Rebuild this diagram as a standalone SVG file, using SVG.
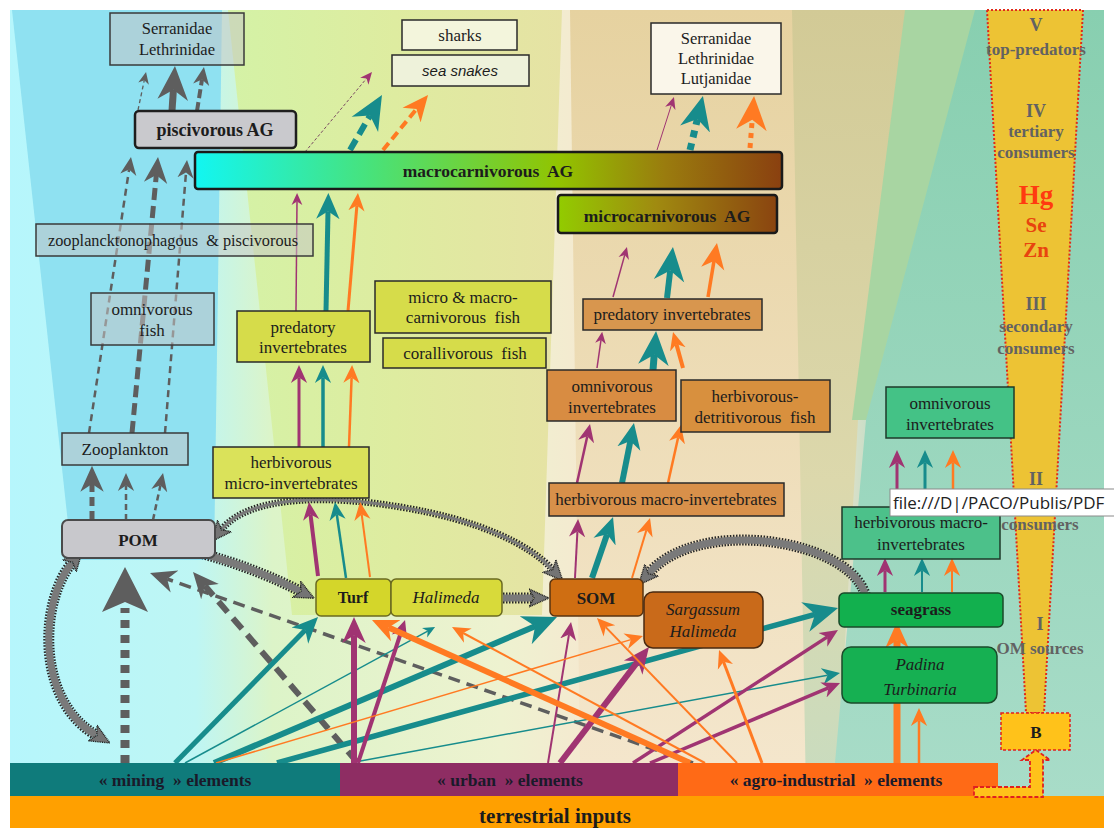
<svg xmlns="http://www.w3.org/2000/svg" width="1114" height="828" viewBox="0 0 1114 828">
<defs>
<linearGradient id="bg" x1="10" y1="0" x2="1104" y2="0" gradientUnits="userSpaceOnUse">
<stop offset="0" stop-color="#b6f6fc"/><stop offset="0.17" stop-color="#bef6f4"/><stop offset="0.24" stop-color="#dcf4c8"/><stop offset="0.45" stop-color="#eef2d0"/><stop offset="0.52" stop-color="#f4ead0"/><stop offset="0.75" stop-color="#f2e2c8"/><stop offset="0.8" stop-color="#b4dcc8"/><stop offset="1" stop-color="#a4d8c4"/>
</linearGradient>
<linearGradient id="gYel" x1="0" y1="0" x2="1" y2="0"><stop offset="0" stop-color="#d4f2a6"/><stop offset="0.5" stop-color="#deeca0"/><stop offset="1" stop-color="#e6e2a4"/></linearGradient>
<linearGradient id="gTan" x1="0" y1="0" x2="0" y2="1"><stop offset="0" stop-color="#e6d2a0"/><stop offset="1" stop-color="#f4e6cc"/></linearGradient>
<linearGradient id="gKhaki" x1="0" y1="0" x2="0" y2="1"><stop offset="0" stop-color="#d2ca96"/><stop offset="0.6" stop-color="#dcd8ac"/><stop offset="1" stop-color="#c8dcc0"/></linearGradient>
<linearGradient id="gTeal" x1="0" y1="0" x2="0" y2="1"><stop offset="0" stop-color="#88cfb0"/><stop offset="1" stop-color="#a8dcc8"/></linearGradient>
<linearGradient id="gMacro" x1="0" y1="0" x2="1" y2="0"><stop offset="0" stop-color="#12f6f2"/><stop offset="0.3" stop-color="#48e27a"/><stop offset="0.62" stop-color="#92c400"/><stop offset="0.8" stop-color="#9a7c0e"/><stop offset="1" stop-color="#8a4010"/></linearGradient>
<linearGradient id="gMicro" x1="0" y1="0" x2="1" y2="0"><stop offset="0" stop-color="#92cc00"/><stop offset="0.45" stop-color="#a08a10"/><stop offset="1" stop-color="#8a4410"/></linearGradient>
<marker id="t-s" viewBox="0 0 10 10" refX="3" refY="5" markerWidth="12" markerHeight="12" markerUnits="userSpaceOnUse" orient="auto"><path d="M0,0.5L10,5L0,9.5L3,5z" fill="#178c8c"/></marker>
<marker id="t-m" viewBox="0 0 10 10" refX="3" refY="5" markerWidth="18" markerHeight="18" markerUnits="userSpaceOnUse" orient="auto"><path d="M0,0.5L10,5L0,9.5L3,5z" fill="#178c8c"/></marker>
<marker id="t-l" viewBox="0 0 10 10" refX="3" refY="5" markerWidth="26" markerHeight="26" markerUnits="userSpaceOnUse" orient="auto"><path d="M0,0.5L10,5L0,9.5L3,5z" fill="#178c8c"/></marker>
<marker id="t-xl" viewBox="0 0 10 10" refX="3" refY="5" markerWidth="34" markerHeight="34" markerUnits="userSpaceOnUse" orient="auto"><path d="M0,0.5L10,5L0,9.5L3,5z" fill="#178c8c"/></marker>
<marker id="m-s" viewBox="0 0 10 10" refX="3" refY="5" markerWidth="12" markerHeight="12" markerUnits="userSpaceOnUse" orient="auto"><path d="M0,0.5L10,5L0,9.5L3,5z" fill="#a03472"/></marker>
<marker id="m-m" viewBox="0 0 10 10" refX="3" refY="5" markerWidth="18" markerHeight="18" markerUnits="userSpaceOnUse" orient="auto"><path d="M0,0.5L10,5L0,9.5L3,5z" fill="#a03472"/></marker>
<marker id="m-l" viewBox="0 0 10 10" refX="3" refY="5" markerWidth="26" markerHeight="26" markerUnits="userSpaceOnUse" orient="auto"><path d="M0,0.5L10,5L0,9.5L3,5z" fill="#a03472"/></marker>
<marker id="o-m" viewBox="0 0 10 10" refX="3" refY="5" markerWidth="18" markerHeight="18" markerUnits="userSpaceOnUse" orient="auto"><path d="M0,0.5L10,5L0,9.5L3,5z" fill="#ff7a22"/></marker>
<marker id="o-l" viewBox="0 0 10 10" refX="3" refY="5" markerWidth="26" markerHeight="26" markerUnits="userSpaceOnUse" orient="auto"><path d="M0,0.5L10,5L0,9.5L3,5z" fill="#ff7a22"/></marker>
<marker id="o-xl" viewBox="0 0 10 10" refX="3" refY="5" markerWidth="34" markerHeight="34" markerUnits="userSpaceOnUse" orient="auto"><path d="M0,0.5L10,5L0,9.5L3,5z" fill="#ff7a22"/></marker>
<marker id="g-s" viewBox="0 0 10 10" refX="3" refY="5" markerWidth="12" markerHeight="12" markerUnits="userSpaceOnUse" orient="auto"><path d="M0,0.5L10,5L0,9.5L3,5z" fill="#5e5e5e"/></marker>
<marker id="g-m" viewBox="0 0 10 10" refX="3" refY="5" markerWidth="18" markerHeight="18" markerUnits="userSpaceOnUse" orient="auto"><path d="M0,0.5L10,5L0,9.5L3,5z" fill="#5e5e5e"/></marker>
<marker id="g-l" viewBox="0 0 10 10" refX="3" refY="5" markerWidth="26" markerHeight="26" markerUnits="userSpaceOnUse" orient="auto"><path d="M0,0.5L10,5L0,9.5L3,5z" fill="#5e5e5e"/></marker>
<marker id="g-xl" viewBox="0 0 10 10" refX="3" refY="5" markerWidth="34" markerHeight="34" markerUnits="userSpaceOnUse" orient="auto"><path d="M0,0.5L10,5L0,9.5L3,5z" fill="#5e5e5e"/></marker>
<marker id="h" viewBox="0 0 10 10" refX="2" refY="5" markerWidth="20" markerHeight="20" markerUnits="userSpaceOnUse" orient="auto"><path d="M0,0.5L10,5L0,9.5L2.5,5z" fill="#747474" stroke="#1e1e1e" stroke-width="0.7" stroke-dasharray="0.5 0.4"/></marker>
<marker id="hs" viewBox="0 0 10 10" refX="2" refY="5" markerWidth="20" markerHeight="20" markerUnits="userSpaceOnUse" orient="auto-start-reverse"><path d="M0,0.5L10,5L0,9.5L2.5,5z" fill="#747474" stroke="#1e1e1e" stroke-width="0.7" stroke-dasharray="0.5 0.4"/></marker>
<style>
text{font-family:"Liberation Serif","Times New Roman",serif;fill:#1c1c1c;text-anchor:middle;font-size:17px}
.b{font-weight:bold}
.i{font-style:italic}
.bx{stroke:#2a2a2a;stroke-width:1.5}
.gr{fill:#c4c6c6;fill-opacity:0.55;stroke:#3a3a3a;stroke-width:1.5}
.ye{fill:#d6dc4a;stroke:#2a2a2a;stroke-width:1.5}
.or{fill:#d8904a;stroke:#2a2a2a;stroke-width:1.5}
.gn{fill:#44c286;stroke:#1e3a2a;stroke-width:1.5}
.lv{fill:#626262;font-weight:bold;font-size:17px}
.el{fill:#e8440e;font-weight:bold;font-size:21px}
.bar{font-weight:bold;font-size:17.5px;fill:#1a1a2a}
.ho{stroke:#262626;stroke-width:11;stroke-dasharray:1.5 1.5;fill:none}
.hi{stroke:#7a7a7a;stroke-width:7;fill:none}
.ho2{stroke:#262626;stroke-width:7;stroke-dasharray:1.5 1.5;fill:none}
.hi2{stroke:#7a7a7a;stroke-width:3;fill:none}
</style>
</defs>

<g id="background">
<rect width="1114" height="828" fill="#ffffff"/>
<rect x="10" y="10" width="1094" height="786" fill="url(#bg)"/>
<polygon points="12,10 222,10 214,560 72,560" fill="#8fe1f1"/>
<polygon points="228,10 562,10 542,615 292,615" fill="url(#gYel)"/>
<polygon points="570,10 800,10 832,763 580,763" fill="url(#gTan)"/>
<polygon points="792,10 910,10 858,420 836,796 806,796" fill="url(#gKhaki)"/>
<polygon points="905,10 980,10 868,420 852,420" fill="#a8d5a2"/>
<polygon points="975,10 1104,10 1104,796 832,796 866,420" fill="url(#gTeal)"/>
</g>

<g id="pyramid">
<polygon points="987,10 1083,10 1044,713 1026,713" fill="#edc334" stroke="#e02a1a" stroke-width="2" stroke-dasharray="2 2"/>
<text class="lv" x="1036" y="31" style="font-size:18px">V</text>
<text class="lv" x="1036" y="55">top-predators</text>
<text class="lv" x="1036" y="117" style="font-size:18px">IV</text>
<text class="lv" x="1036" y="137">tertiary</text>
<text class="lv" x="1036" y="158">consumers</text>
<text class="el" x="1036" y="204" style="font-size:27px;fill:#ff3a10">Hg</text>
<text class="el" x="1036" y="232">Se</text>
<text class="el" x="1036" y="257">Zn</text>
<text class="lv" x="1036" y="310" style="font-size:18px">III</text>
<text class="lv" x="1036" y="332">secondary</text>
<text class="lv" x="1036" y="354">consumers</text>
<text class="lv" x="1036" y="485" style="font-size:18px">II</text>
<text class="lv" x="1040" y="530">consumers</text>
<text class="lv" x="1040" y="630" style="font-size:18px">I</text>
<text class="lv" x="1040" y="654">OM sources</text>
</g>

<g id="connectors" fill="none">
<g id="hatched">
<path class="ho" d="M200,553 Q255,568 300,591"/><path class="hi" d="M200,553 Q255,568 300,591" marker-end="url(#h)"/>
<path class="ho" d="M503,598 L533,598"/><path class="hi" d="M503,598 L533,598" marker-end="url(#h)"/>
<path class="ho2" d="M222,529 C250,495 330,495 400,507 C480,520 530,545 552,569"/><path class="hi2" d="M222,529 C250,495 330,495 400,507 C480,520 530,545 552,569" marker-start="url(#hs)" marker-end="url(#h)"/>
<path class="ho" d="M866,598 C855,540 700,515 649,573"/><path class="hi" d="M866,598 C855,540 700,515 649,573" marker-end="url(#h)"/>
<path class="ho" d="M72,563 C40,600 35,700 96,735"/><path class="hi" d="M72,563 C40,600 35,700 96,735" marker-start="url(#hs)" marker-end="url(#h)"/>
</g>
<g id="gray" stroke="#5e5e5e">
<line x1="89" y1="433" x2="129.1" y2="169.4" stroke-width="2.5" stroke-dasharray="7 5" marker-end="url(#g-m)"/>
<line x1="132" y1="433" x2="156.3" y2="175.1" stroke-width="5" stroke-dasharray="12 6" marker-end="url(#g-l)"/>
<line x1="165" y1="433" x2="186" y2="172.6" stroke-width="2.5" stroke-dasharray="7 5" marker-end="url(#g-m)"/>
<line x1="92" y1="520" x2="92" y2="484" stroke-width="5" stroke-dasharray="9 5" marker-end="url(#g-l)"/>
<line x1="126" y1="520" x2="126" y2="485.6" stroke-width="2.5" stroke-dasharray="6 4" marker-end="url(#g-m)"/>
<line x1="153" y1="520" x2="160.4" y2="485.3" stroke-width="2.5" stroke-dasharray="6 4" marker-end="url(#g-m)"/>
<line x1="138" y1="110" x2="144.3" y2="80.2" stroke-width="1.3" stroke-dasharray="4 3" marker-end="url(#g-s)"/>
<line x1="172" y1="111" x2="173.4" y2="89.7" stroke-width="7" marker-end="url(#g-xl)"/>
<line x1="197" y1="111" x2="202" y2="79.4" stroke-width="4" stroke-dasharray="9 4" marker-end="url(#g-m)"/>
<line x1="693" y1="763" x2="167.2" y2="579" stroke-width="3.5" stroke-dasharray="12 7" marker-end="url(#g-l)"/>
<line x1="357" y1="762" x2="204.9" y2="585.8" stroke-width="6" stroke-dasharray="14 8" marker-end="url(#g-l)"/>
<line x1="125" y1="763" x2="125" y2="608" stroke-width="9" stroke-dasharray="8 7"/>
<polygon points="125,567 148,612 125,602 102,612" fill="#5e5e5e" stroke="none"/>
</g>
<g id="teal" stroke="#178c8c">
<line x1="350" y1="150" x2="370" y2="115.6" stroke-width="6" stroke-dasharray="12 6" marker-end="url(#t-xl)"/>
<line x1="690" y1="150" x2="697.4" y2="119.1" stroke-width="7" stroke-dasharray="7 6" marker-end="url(#t-xl)"/>
<line x1="326" y1="311" x2="328" y2="211.2" stroke-width="5" marker-end="url(#t-l)"/>
<line x1="323" y1="447" x2="323" y2="377.6" stroke-width="3.5" marker-end="url(#t-m)"/>
<line x1="346" y1="578" x2="336.8" y2="514.5" stroke-width="2.5" marker-end="url(#t-m)"/>
<line x1="592" y1="578" x2="607.1" y2="534.2" stroke-width="6" marker-end="url(#t-l)"/>
<line x1="622" y1="483" x2="630.4" y2="440.9" stroke-width="6" marker-end="url(#t-l)"/>
<line x1="653" y1="370" x2="654.2" y2="354.7" stroke-width="7" marker-end="url(#t-xl)"/>
<line x1="667" y1="298" x2="670.2" y2="270.6" stroke-width="6" marker-end="url(#t-xl)"/>
<line x1="922" y1="592" x2="922" y2="570.6" stroke-width="2" marker-end="url(#t-m)"/>
<line x1="925" y1="507" x2="925" y2="462.6" stroke-width="3" marker-end="url(#t-m)"/>
<line x1="175" y1="763" x2="305.3" y2="630" stroke-width="5" marker-end="url(#t-l)"/>
<line x1="185" y1="763" x2="427.7" y2="631.1" stroke-width="1.5" marker-end="url(#t-s)"/>
<line x1="214" y1="763" x2="535.1" y2="626.3" stroke-width="6" marker-end="url(#t-xl)"/>
<line x1="277" y1="763" x2="815.1" y2="614.3" stroke-width="5.5" marker-end="url(#t-xl)"/>
<line x1="355" y1="762" x2="827.6" y2="675.3" stroke-width="1.5" marker-end="url(#t-m)"/>
</g>
<g id="magenta" stroke="#a03472">
<line x1="305" y1="152" x2="366.6" y2="78.4" stroke-width="1" stroke="#7a4a62" stroke-dasharray="3 2" marker-end="url(#m-s)"/>
<line x1="657" y1="150" x2="671.4" y2="105" stroke-width="1" marker-end="url(#m-s)"/>
<line x1="296" y1="311" x2="297" y2="201.4" stroke-width="1.5" marker-end="url(#m-s)"/>
<line x1="299" y1="447" x2="299" y2="377.6" stroke-width="3" marker-end="url(#m-m)"/>
<line x1="318" y1="576" x2="310.5" y2="514.5" stroke-width="4" marker-end="url(#m-m)"/>
<line x1="575" y1="578" x2="577.4" y2="531.6" stroke-width="2" marker-end="url(#m-m)"/>
<line x1="577" y1="483" x2="587.3" y2="436.3" stroke-width="2.5" marker-end="url(#m-m)"/>
<line x1="597" y1="368" x2="601" y2="340" stroke-width="1.5" marker-end="url(#m-s)"/>
<line x1="613" y1="297" x2="624.7" y2="255.1" stroke-width="1.5" marker-end="url(#m-s)"/>
<line x1="885" y1="592" x2="885" y2="570.6" stroke-width="3" marker-end="url(#m-m)"/>
<line x1="897" y1="507" x2="897" y2="462.6" stroke-width="3" marker-end="url(#m-m)"/>
<line x1="354" y1="763" x2="354" y2="635.2" stroke-width="6" marker-end="url(#m-l)"/>
<line x1="358" y1="763" x2="401.1" y2="632" stroke-width="4" marker-end="url(#m-m)"/>
<line x1="548" y1="763" x2="569" y2="634.4" stroke-width="2" marker-end="url(#m-m)"/>
<line x1="560" y1="763" x2="637.9" y2="661.4" stroke-width="6" marker-end="url(#m-l)"/>
<line x1="633" y1="763" x2="827.4" y2="636.9" stroke-width="3.5" marker-end="url(#m-m)"/>
<line x1="650" y1="763" x2="828.4" y2="687.9" stroke-width="3.5" marker-end="url(#m-m)"/>
</g>
<g id="orange" stroke="#ff7a22">
<line x1="383" y1="150" x2="416.5" y2="109.1" stroke-width="4" stroke-dasharray="9 5" marker-end="url(#o-l)"/>
<line x1="750" y1="148" x2="752.2" y2="119.8" stroke-width="5" stroke-dasharray="5 5" marker-end="url(#o-xl)"/>
<line x1="348" y1="311" x2="356.9" y2="205.5" stroke-width="3" marker-end="url(#o-m)"/>
<line x1="349" y1="447" x2="351.6" y2="377.6" stroke-width="2.5" marker-end="url(#o-m)"/>
<line x1="370" y1="577" x2="361.7" y2="514.5" stroke-width="2" marker-end="url(#o-m)"/>
<line x1="632" y1="578" x2="646.4" y2="530.1" stroke-width="2" marker-end="url(#o-m)"/>
<line x1="668" y1="483" x2="678.2" y2="437.3" stroke-width="2.5" marker-end="url(#o-m)"/>
<line x1="683" y1="368" x2="676.4" y2="344.1" stroke-width="4" marker-end="url(#o-m)"/>
<line x1="708" y1="297" x2="714" y2="260.9" stroke-width="3.5" marker-end="url(#o-l)"/>
<line x1="952" y1="592" x2="952" y2="570.6" stroke-width="2" marker-end="url(#o-m)"/>
<line x1="953" y1="507" x2="953" y2="462.6" stroke-width="2.5" marker-end="url(#o-m)"/>
<line x1="897" y1="763" x2="897" y2="640.2" stroke-width="7" marker-end="url(#o-l)"/>
<line x1="919" y1="763" x2="919" y2="720.6" stroke-width="2.5" marker-end="url(#o-m)"/>
<line x1="690" y1="763" x2="388.6" y2="627.5" stroke-width="6" marker-end="url(#o-l)"/>
<line x1="705" y1="763" x2="463.1" y2="633" stroke-width="2" marker-end="url(#o-m)"/>
<line x1="216" y1="763" x2="630.9" y2="639.6" stroke-width="1.5" marker-end="url(#o-m)"/>
<line x1="737" y1="763" x2="605.7" y2="627.1" stroke-width="2" marker-end="url(#o-m)"/>
<line x1="762" y1="763" x2="723.5" y2="661.8" stroke-width="3" marker-end="url(#o-m)"/>
</g>
</g>

<g id="n-serr1"><rect class="gr" x="110" y="13" width="134" height="52"/><text x="177" y="34" style="font-size:16.5px">Serranidae</text><text x="177" y="55" style="font-size:16.5px">Lethrinidae</text></g>
<g id="n-pisc"><rect x="135" y="111" width="161" height="37" rx="4" fill="#c9c9cd" stroke="#1e1e1e" stroke-width="2.5"/><text class="b" x="215" y="136" style="font-size:18px">piscivorous AG</text></g>
<g id="n-sharks"><rect class="bx" x="402" y="20" width="115" height="30" fill="#f3f5dc"/><text x="460" y="41">sharks</text></g>
<g id="n-snakes"><rect class="bx" x="392" y="55" width="137" height="31" fill="#eef2da"/><text class="i" x="460" y="76" style="font-family:'Liberation Sans',Arial,sans-serif;font-size:15px">sea snakes</text></g>
<g id="n-serr2"><rect class="bx" x="651" y="23" width="130" height="71" fill="#faf6ea"/><text x="716" y="44" style="font-size:16.5px">Serranidae</text><text x="716" y="64" style="font-size:16.5px">Lethrinidae</text><text x="716" y="84" style="font-size:16.5px">Lutjanidae</text></g>
<g id="n-macro"><rect x="195" y="152" width="587" height="37" rx="3" fill="url(#gMacro)" stroke="#1a1a1a" stroke-width="2.5"/><text class="b" x="488" y="177" style="font-size:17.5px">macrocarnivorous&#160; AG</text></g>
<g id="n-micro"><rect x="558" y="195" width="219" height="38" rx="3" fill="url(#gMicro)" stroke="#1a1a1a" stroke-width="2.5"/><text class="b" x="667" y="222" style="font-size:17.5px">microcarnivorous&#160; AG</text></g>
<g id="n-zoopisc"><rect class="gr" x="36" y="224" width="277" height="32"/><text x="173" y="246" style="font-size:16.3px">zooplancktonophagous&#160; &amp; piscivorous</text></g>
<g id="n-omnifish"><rect class="gr" x="91" y="293" width="123" height="52"/><text x="152" y="315">omnivorous</text><text x="152" y="336">fish</text></g>
<g id="n-pred1"><rect class="ye" x="237" y="311" width="133" height="51"/><text x="303" y="333">predatory</text><text x="303" y="353">invertebrates</text></g>
<g id="n-micmac"><rect class="ye" x="375" y="281" width="176" height="52"/><text x="463" y="303">micro &amp; macro-</text><text x="463" y="323">carnivorous&#160; fish</text></g>
<g id="n-coral"><rect class="ye" x="383" y="338" width="163" height="30"/><text x="465" y="359">corallivorous&#160; fish</text></g>
<g id="n-pred2"><rect class="or" x="583" y="299" width="179" height="31" style="fill:#d8964e"/><text x="672" y="320">predatory invertebrates</text></g>
<g id="n-omniinv"><rect class="or" x="547" y="370" width="129" height="51" style="fill:#d88c42"/><text x="612" y="392">omnivorous</text><text x="612" y="413">invertebrates</text></g>
<g id="n-herbdet"><rect class="or" x="681" y="380" width="149" height="52" style="fill:#d8903e"/><text x="755" y="402">herbivorous-</text><text x="755" y="423">detritivorous&#160; fish</text></g>
<g id="n-herbmac"><rect class="or" x="549" y="483" width="235" height="33"/><text x="666" y="505">herbivorous macro-invertebrates</text></g>
<g id="n-omniG"><rect class="gn" x="886" y="387" width="128" height="51"/><text x="950" y="409">omnivorous</text><text x="950" y="430">invertebrates</text></g>
<g id="n-herbG"><rect class="gn" x="842" y="507" width="158" height="52" style="fill:#4cc18a"/><text x="921" y="528">herbivorous macro-</text><text x="921" y="550">invertebrates</text></g>
<g id="n-zoo"><rect class="gr" x="62" y="433" width="126" height="32"/><text x="125" y="455">Zooplankton</text></g>
<g id="n-herbmic"><rect class="ye" x="213" y="447" width="156" height="51" style="fill:#dae25a"/><text x="291" y="468">herbivorous</text><text x="291" y="489">micro-invertebrates</text></g>
<g id="n-pom"><rect x="62" y="520" width="153" height="38" rx="6" fill="#c8c8cc" stroke="#4a4a4a" stroke-width="2"/><text class="b" x="138" y="546">POM</text></g>
<g id="n-turf"><rect x="316" y="579" width="75" height="37" rx="5" fill="#d4d62a" stroke="#6a6a20" stroke-width="1.5"/><text class="b" x="353" y="603" style="font-size:16px">Turf</text></g>
<g id="n-halim"><rect x="391" y="579" width="111" height="37" rx="5" fill="#d8da3a" stroke="#6a6a20" stroke-width="1.5"/><text class="i" x="446" y="603">Halimeda</text></g>
<g id="n-som"><rect x="550" y="579" width="93" height="37" rx="5" fill="#cf6e12" stroke="#5a3410" stroke-width="1.5"/><text class="b" x="596" y="604">SOM</text></g>
<g id="n-sarg"><rect x="644" y="592" width="119" height="56" rx="9" fill="#c96a1a" stroke="#4a2a10" stroke-width="1.5"/><text class="i" x="703" y="615">Sargassum</text><text class="i" x="703" y="637">Halimeda</text></g>
<g id="n-seagrass"><rect x="839" y="593" width="164" height="34" rx="5" fill="#12b04e" stroke="#1a4a2a" stroke-width="1.5"/><text class="b" x="921" y="615">seagrass</text></g>
<g id="n-padina"><rect x="842" y="647" width="155" height="56" rx="9" fill="#16b052" stroke="#1a4a2a" stroke-width="1.5"/><text class="i" x="920" y="670">Padina</text><text class="i" x="920" y="695">Turbinaria</text></g>
<g id="n-b"><rect x="1001" y="713" width="69" height="37" fill="#ffc21a" stroke="#e02020" stroke-width="1.5" stroke-dasharray="3 2"/><text class="b" x="1036" y="738">B</text></g>

<g id="n-mining"><rect x="10" y="763" width="330" height="33" fill="#0f7b7b"/><text class="bar" x="175" y="786">« mining&#160; » elements</text></g>
<g id="n-urban"><rect x="340" y="763" width="338" height="33" fill="#8e2d63"/><text class="bar" x="510" y="786">« urban&#160; » elements</text></g>
<g id="n-agro"><rect x="678" y="763" width="320" height="33" fill="#ff6a16"/><text class="bar" x="836" y="786">« agro-industrial&#160; » elements</text></g>
<g id="n-terr"><rect x="10" y="796" width="1094" height="32" fill="#ffa000"/><text class="b" x="555" y="823" style="font-size:21px">terrestrial inputs</text></g>
<g id="b-arrow"><polygon points="974,787 1030,787 1030,760 1022,760 1036,750 1050,760 1043,760 1043,797 974,797" fill="#ffc21a" stroke="#e02020" stroke-width="1.8" stroke-dasharray="4 2"/></g>

<g id="tooltip"><rect x="890" y="489" width="230" height="27" fill="#ffffff" stroke="#8a8a8a" stroke-width="1"/><text x="893" y="509" style="font-family:'Open Sans','Liberation Sans',sans-serif;font-size:17px;text-anchor:start;fill:#222">file:///D|/PACO/Publis/PDF</text></g>
</svg>
